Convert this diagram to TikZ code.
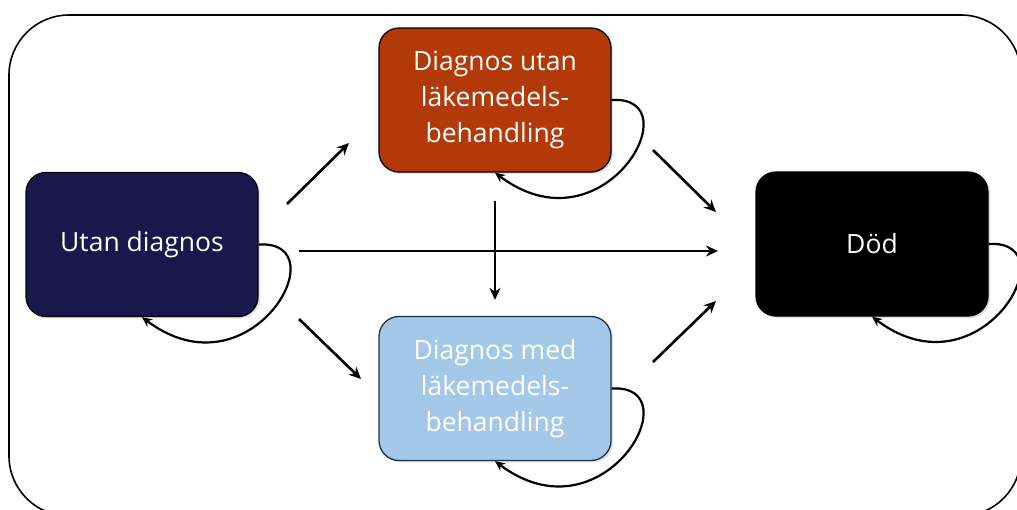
\documentclass[tikz,border=0pt]{standalone}
\usepackage{fontspec}
\setmainfont{Open Sans}
\usetikzlibrary{arrows.meta,shadows}
\definecolor{navy}{HTML}{19174B}
\definecolor{rust}{HTML}{B33A08}
\definecolor{lblue}{HTML}{A3C8E8}
\definecolor{bordblue}{HTML}{1F3347}
\begin{document}
\begin{tikzpicture}[x=1pt,y=1pt,
  state/.style={draw=black,line width=1.3pt,rounded corners=20pt,minimum width=232pt,minimum height=144pt,
    text=white,align=center,font=\fontsize{26.5}{36}\selectfont,
    drop shadow={shadow xshift=2pt,shadow yshift=-2pt,opacity=0.25}},
  flow/.style={line width=2.6pt,-{Stealth[length=12pt,width=11pt]}},
  selfloop/.style={line width=2.2pt,-{Stealth[length=10pt,width=9pt]}}]
\useasboundingbox (0,0) rectangle (1017,-509);
\draw[line width=1.6pt,rounded corners=60pt] (9,-15) rectangle (1021,-516);
\node[state,fill=navy] (u) at (142,-244.5) {Utan diagnos};
\node[state,fill=rust] (du) at (495,-100) {Diagnos utan\\läkemedels-\\behandling};
\node[state,fill=lblue,draw=bordblue] (dm) at (495,-388.5) {Diagnos med\\läkemedels-\\behandling};
\node[state,fill=black] (dd) at (872,-244) {Död};
\coordinate (a1s) at (287,-204);
\coordinate (a1e) at (349,-143);
\coordinate (a2s) at (299,-251);
\coordinate (a2e) at (718,-251);
\coordinate (a3s) at (299,-319);
\coordinate (a3e) at (361,-379);
\coordinate (a4s) at (653,-150);
\coordinate (a4e) at (716,-212);
\coordinate (a5s) at (653,-362);
\coordinate (a5e) at (716,-301);
\draw[flow] (a1s) -- (a1e);
\draw[flow] (a2s) -- (a2e);
\draw[flow] (a3s) -- (a3e);
\draw[flow] (a4s) -- (a4e);
\draw[flow] (a5s) -- (a5e);
\draw[flow,shorten <=28pt,shorten >=16pt] (du.south) -- (dm.north);
\foreach \n in {u,du,dm,dd}{
  \draw[selfloop] (\n.east) .. controls +(82,5) and +(109,-82) .. (\n.south);
}
\end{tikzpicture}
\end{document}
